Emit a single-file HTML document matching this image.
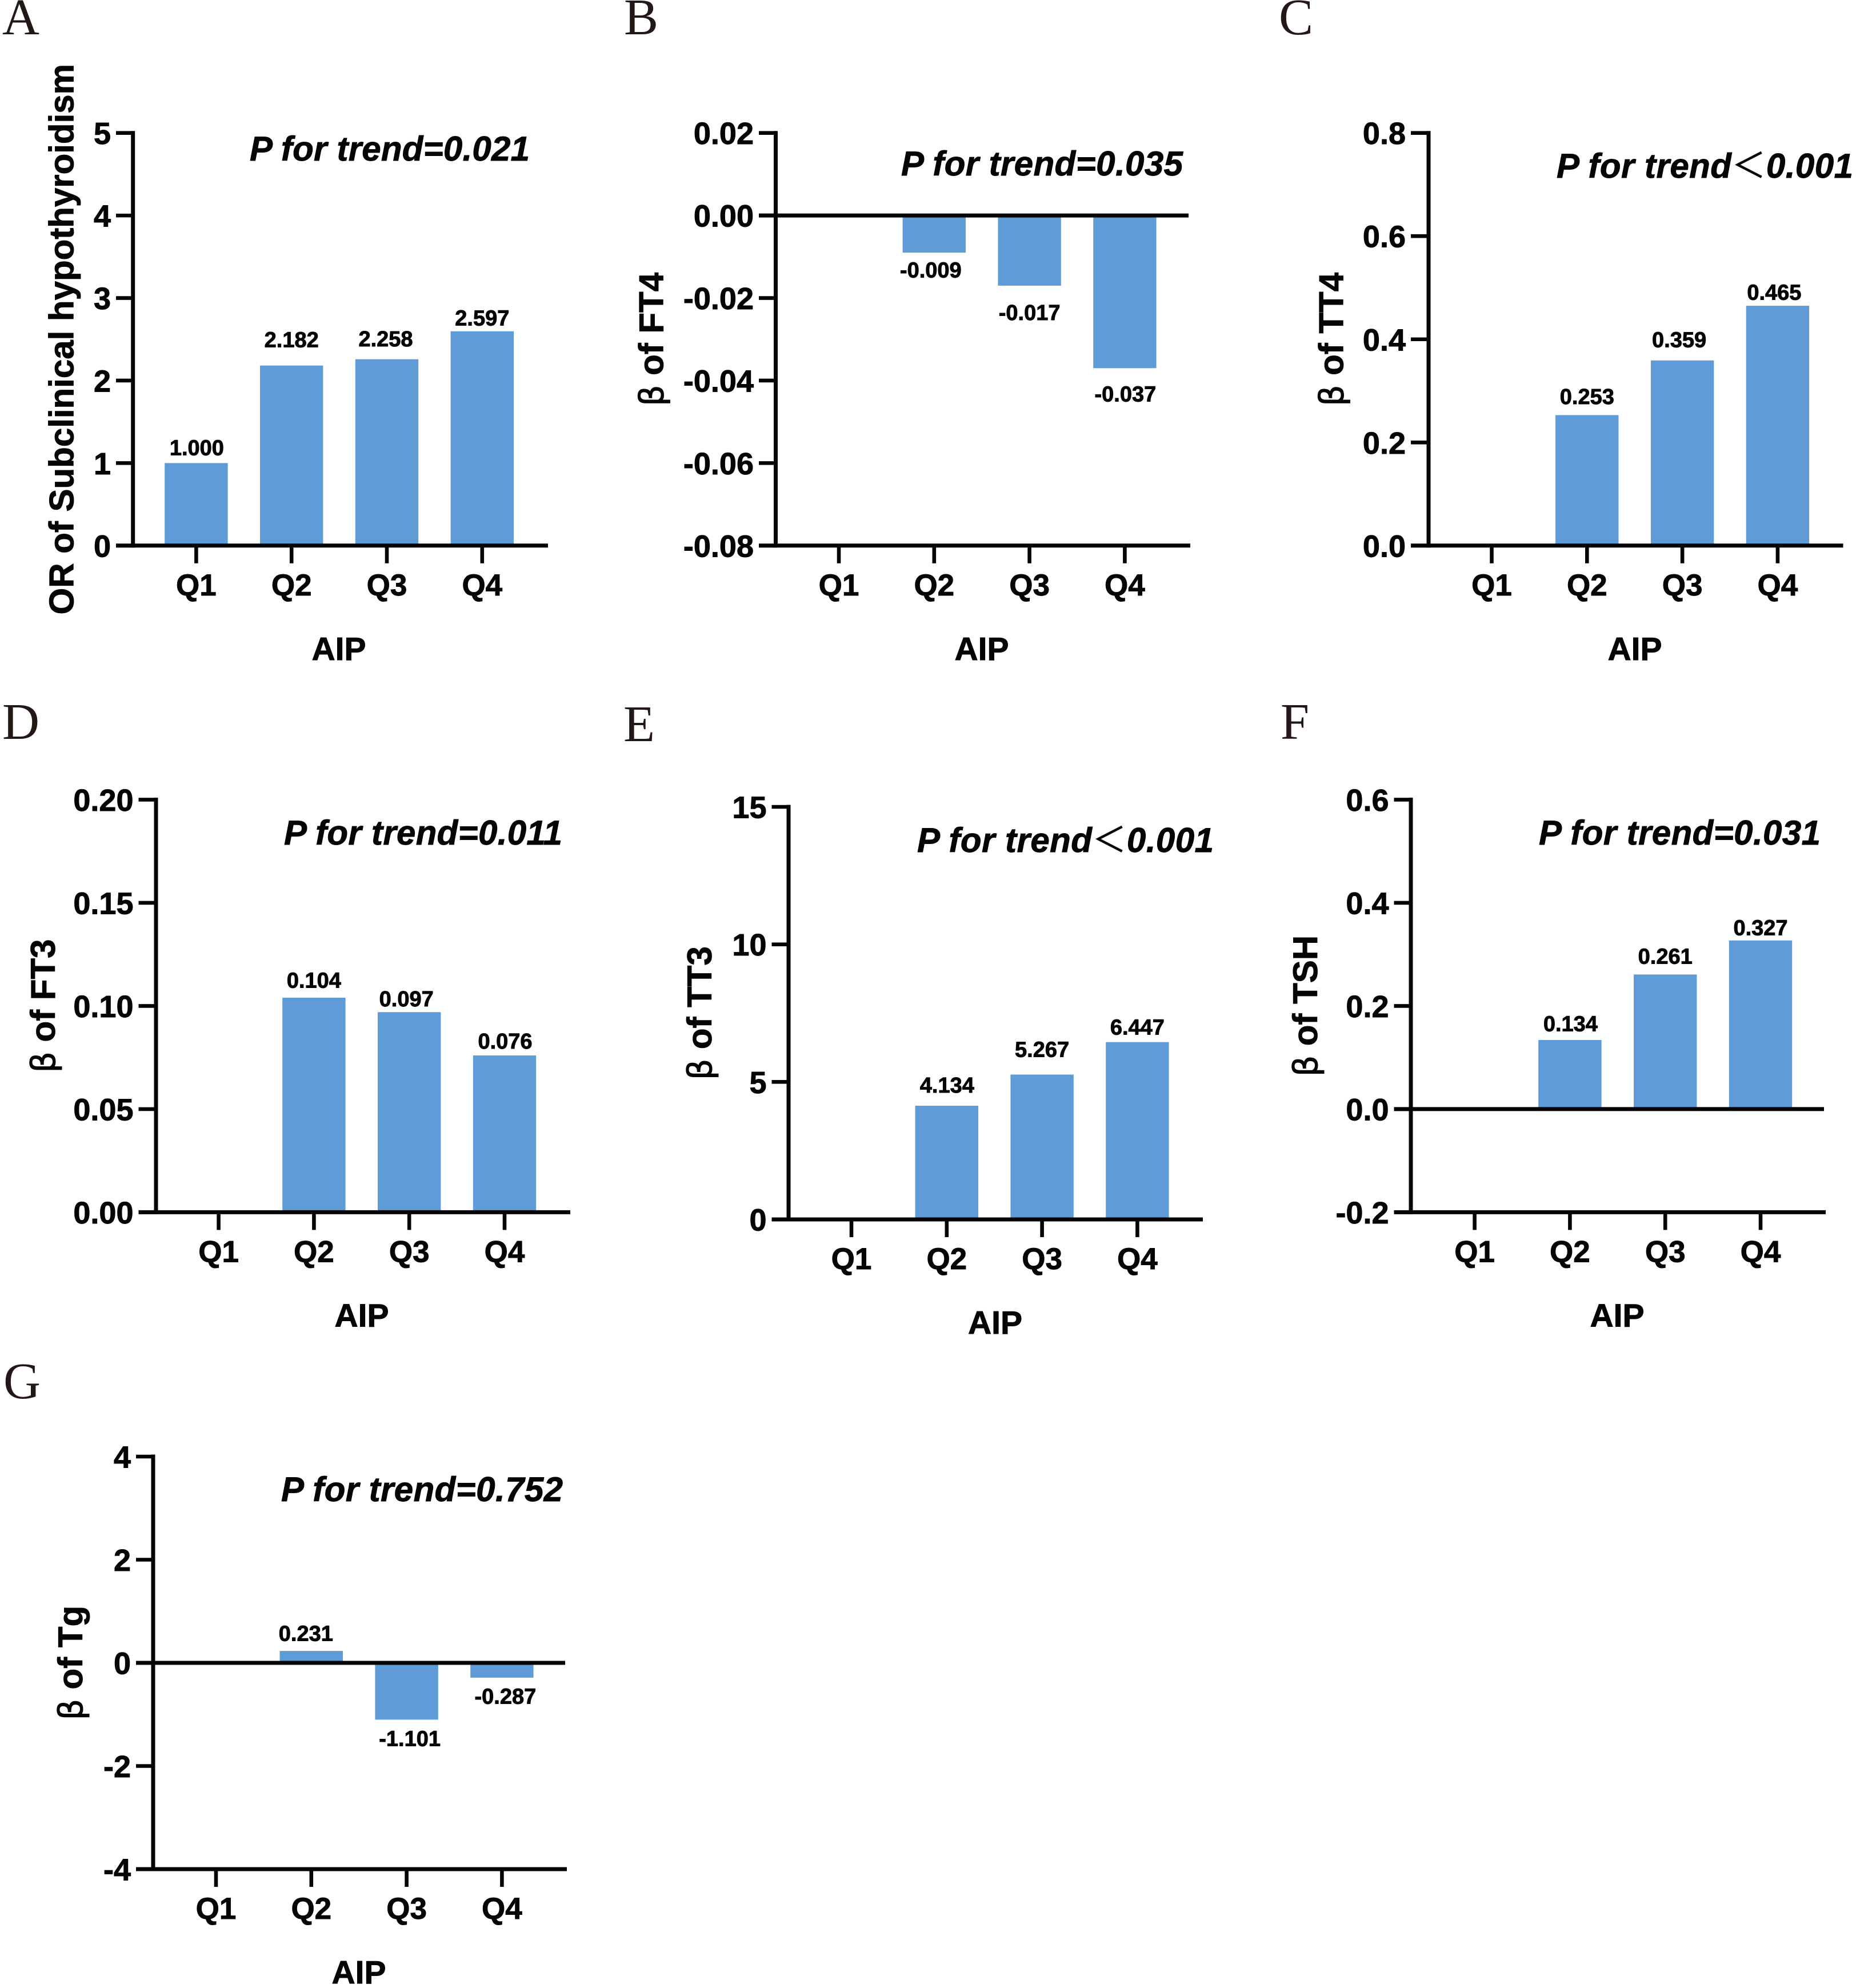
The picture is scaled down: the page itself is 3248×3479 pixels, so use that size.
<!DOCTYPE html>
<html lang="en">
<head>
<meta charset="utf-8">
<title>AIP quartiles and thyroid outcomes</title>
<style>
html,body{margin:0;padding:0;background:#fff;}
svg{display:block;}
text{font-family:"Liberation Sans","Noto Sans CJK SC",sans-serif;fill:#050505;}
.sans-bold{font-weight:700;stroke:#050505;stroke-width:0.9px;}
.panel-letter{font-family:"Liberation Serif",serif;font-size:90px;fill:#231815;font-weight:400;}
.beta{font-family:"DejaVu Sans",sans-serif;font-weight:400;font-size:58px;stroke-width:1px;}
.lt{font-family:"Noto Sans CJK SC",sans-serif;font-style:normal;font-weight:400;stroke-width:0.4px;}
</style>
</head>
<body>
<svg id="figure" xmlns="http://www.w3.org/2000/svg" width="3248" height="3479" viewBox="0 0 3248 3479"></svg>
<script>
// ---- data ----
const categories = ["Q1", "Q2", "Q3", "Q4"];

const valuesA = [1.000, 2.182, 2.258, 2.597];
const valuesB = [0, -0.009, -0.017, -0.037];
const valuesC = [0, 0.253, 0.359, 0.465];
const valuesD = [0, 0.104, 0.097, 0.076];
const valuesE = [0, 4.134, 5.267, 6.447];
const valuesF = [0, 0.134, 0.261, 0.327];
const valuesG = [0, 0.231, -1.101, -0.287];

const ticksA = ["0", "1", "2", "3", "4", "5"];
const ticksB = ["-0.08", "-0.06", "-0.04", "-0.02", "0.00", "0.02"];
const ticksC = ["0.0", "0.2", "0.4", "0.6", "0.8"];
const ticksD = ["0.00", "0.05", "0.10", "0.15", "0.20"];
const ticksE = ["0", "5", "10", "15"];
const ticksF = ["-0.2", "0.0", "0.2", "0.4", "0.6"];
const ticksG = ["-4", "-2", "0", "2", "4"];

const trendA = "=0.021";
const trendB = "=0.035";
const trendC = "＜0.001";
const trendD = "=0.011";
const trendE = "＜0.001";
const trendF = "=0.031";
const trendG = "=0.752";

// ---- layout ----
const panels = [
  {id:"a", letter:"A", lx:4, ly:60, title:"OR of Subclinical hypothyroidism", beta:false, values:valuesA, ticks:ticksA, trend:trendA,
   ax:232.7, top:232.7, bot:954.8, end:959, q0:343.4, tl:203, tbx:[437,927], tby:281, tx:128.5, aipx:593, ox:[1,0,-2,0], oy:[-12.4,-30.7,-21,-8.8]},
  {id:"b", letter:"B", lx:1092, ly:60, title:" of FT4", beta:true, values:valuesB, ticks:ticksB, trend:trendB,
   ax:1357.5, top:232.7, bot:954.8, end:2083, q0:1468, tl:1328, tbx:[1577,2070], tby:307, tx:1160.5, aipx:1718, ox:[0,-6,0,1], oy:[0,44.8,61.5,59.5]},
  {id:"c", letter:"C", lx:2238, ly:60, title:" of TT4", beta:true, values:valuesC, ticks:ticksC, trend:trendC,
   ax:2500, top:232.7, bot:954.8, end:3225.5, q0:2610.5, tl:2469, tbx:[2724,3243], tby:311, tx:2350.5, aipx:2861, ox:[0,0,-5.5,-6], oy:[0,-18,-21.8,-9]},
  {id:"d", letter:"D", lx:4, ly:1293, title:" of FT3", beta:true, values:valuesD, ticks:ticksD, trend:trendD,
   ax:273, top:1399.4, bot:2121.4, end:998, q0:382.6, tl:242.5, tbx:[497,984], tby:1478, tx:96, aipx:633, ox:[0,0,-5,1], oy:[0,-16,-8.6,-10.4]},
  {id:"e", letter:"E", lx:1091, ly:1297, title:" of TT3", beta:true, values:valuesE, ticks:ticksE, trend:trendE,
   ax:1380, top:1412, bot:2134, end:2105, q0:1490, tl:1350.5, tbx:[1605,2124], tby:1491, tx:1245, aipx:1741.5, ox:[0,0.5,0,0], oy:[0,-21.4,-29.5,-11.7]},
  {id:"f", letter:"F", lx:2241, ly:1293, title:" of TSH", beta:true, values:valuesF, ticks:ticksF, trend:trendF,
   ax:2469, top:1399.4, bot:2121.4, end:3195, q0:2580.6, tl:2439.5, tbx:[2693,3186], tby:1478, tx:2305, aipx:2830, ox:[0,1,0,0], oy:[0,-14,-17.3,-7.8]},
  {id:"g", letter:"G", lx:6, ly:2447, title:" of Tg", beta:true, values:valuesG, ticks:ticksG, trend:trendG,
   ax:268, top:2549, bot:3271, end:992, q0:378, tl:238, tbx:[492,985], tby:2627, tx:144, aipx:628, ox:[0,-9.5,5.5,6], oy:[0,-16,47.6,47]}
];
const STEP = 166.8;
const BAR_W = 110.4;
const LINE = 7;
const BAR_COLOR = "#5f9bd6";
const INK = "#050505";

const SVG_NS = "http://www.w3.org/2000/svg";
const fig = document.getElementById("figure");

function make(parent, tag, attrs, txt) {
  const el = document.createElementNS(SVG_NS, tag);
  for (const k in attrs) el.setAttribute(k, attrs[k]);
  if (txt !== undefined) el.textContent = txt;
  parent.appendChild(el);
  return el;
}

panels.forEach(function (p) {
  const tickNums = p.ticks.map(Number);
  const dMin = tickNums[0];
  const dMax = tickNums[tickNums.length - 1];
  const yScale = function (v) { return p.bot - (v - dMin) / (dMax - dMin) * (p.bot - p.top); };
  const xScale = function (i) { return p.q0 + i * STEP; };
  const baseY = yScale(Math.max(0, dMin));

  const g = make(fig, "g", {});
  
  

  const letter = make(g, "text", {x:p.lx, y:p.ly, "class":"panel-letter"}, p.letter);
  
  

  // bars
  categories.forEach(function (cat, i) {
    const v = p.values[i];
    if (v === 0) return;
    const y0 = yScale(v);
    const bar = make(g, "rect", {
      x: xScale(i) - BAR_W / 2,
      y: Math.min(y0, baseY),
      width: BAR_W,
      height: Math.abs(y0 - baseY),
      fill: BAR_COLOR
    });
    
    

    const lbl = make(g, "text", {
      x: xScale(i) + p.ox[i],
      y: y0 + p.oy[i] - 1.5,
      "text-anchor": "middle",
      "class": "sans-bold",
      "font-size": 38
    }, v.toFixed(3));
    
    
  });

  // y axis line
  const yAxis = make(g, "line", {x1:p.ax, x2:p.ax, y1:p.top - LINE / 2, y2:p.bot + LINE / 2, stroke:INK, "stroke-width":LINE});
  
  

  // x axis line at the lower bound
  const xAxis = make(g, "line", {x1:p.tl, x2:p.end, y1:p.bot, y2:p.bot, stroke:INK, "stroke-width":LINE});
  
  

  // y ticks and labels
  p.ticks.forEach(function (t) {
    const v = Number(t);
    const ty = yScale(v);
    const tick = make(g, "line", {x1:p.tl, x2:p.ax, y1:ty, y2:ty, stroke:INK, "stroke-width":6.6});
    
    

    const tl = make(g, "text", {x:p.tl - 9, y:ty + 19.5, "text-anchor":"end", "class":"sans-bold", "font-size":54}, t);
    
    
  });

  // zero line when zero is inside the range
  if (dMin < 0 && dMax > 0) {
    const zero = make(g, "line", {x1:p.tl, x2:p.end - 3, y1:baseY, y2:baseY, stroke:INK, "stroke-width":LINE});
    
    
  }

  // x ticks and labels
  categories.forEach(function (cat, i) {
    const tx = xScale(i);
    const tick = make(g, "line", {x1:tx, x2:tx, y1:p.bot, y2:p.bot + 31, stroke:INK, "stroke-width":6.6});
    
    

    const lab = make(g, "text", {x:tx, y:p.bot + 87, "text-anchor":"middle", "class":"sans-bold", "font-size":53}, cat);
    
    
  });

  // x title
  const aip = make(g, "text", {x:p.aipx, y:p.bot + 200, "text-anchor":"middle", "class":"sans-bold", "font-size":57}, "AIP");
  
  

  // y title
  const midY = (p.top + p.bot) / 2;
  const yt = make(g, "text", {
    x: p.tx, y: midY,
    transform: "rotate(-90 " + p.tx + " " + midY + ")",
    "text-anchor": "middle",
    "class": "sans-bold",
    "font-size": 60
  });
  
  
  if (p.beta) {
    make(yt, "tspan", {"class":"beta"}, "β");
  }
  yt.appendChild(document.createTextNode(p.title));

  // trend annotation
  const tr = make(g, "text", {
    x: p.tbx[0], y: p.tby,
    "class": "sans-bold",
    "font-style": "italic",
    "font-size": 60,
    textLength: p.tbx[1] - p.tbx[0],
    lengthAdjust: "spacing"
  });
  
  
  tr.appendChild(document.createTextNode("P for trend"));
  if (p.trend.charAt(0) === "＜") {
    make(tr, "tspan", {"class":"lt"}, "＜");
    tr.appendChild(document.createTextNode(p.trend.slice(1)));
  } else {
    tr.appendChild(document.createTextNode(p.trend));
  }
});
</script>
</body>
</html>
